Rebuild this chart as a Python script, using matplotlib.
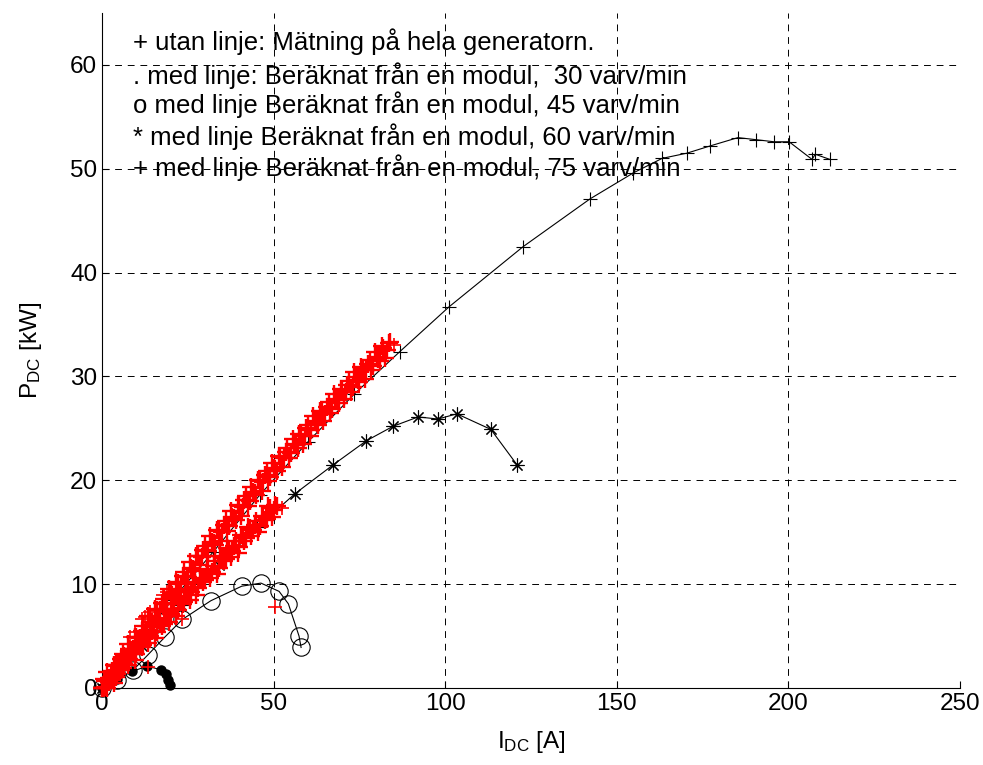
"""
P_DC mot I_DC for generatorn
"""
import matplotlib
matplotlib.use('Agg')
from matplotlib import pyplot as plt

plt.rcParams['font.family'] = ['Liberation Sans', 'DejaVu Sans']
plt.rcParams['mathtext.fontset'] = 'custom'
plt.rcParams['mathtext.rm'] = 'Liberation Sans'
plt.rcParams['mathtext.default'] = 'regular'

# 30 varv/min (. med linje)
I_30 = [0, 4.4, 8.8, 13.2, 17.2, 18.5, 19.3, 19.7]
P_30 = [0, 0.9, 1.6, 2.1, 1.75, 1.3, 0.8, 0.3]

# 45 varv/min (o med linje)
I_45 = [0, 4.5, 9.0, 13.4, 18.3, 23.4, 31.7, 40.7, 46.3, 51.6, 54.3, 57.4, 58.0]
P_45 = [0, 0.8, 1.7, 3.2, 4.9, 6.6, 8.4, 9.8, 10.1, 9.3, 8.1, 5.0, 3.9]

# 60 varv/min (* med linje)
I_60 = [0, 11.5, 23.0, 34.0, 45.3, 56.2, 67.4, 77.0, 84.8, 92.1, 97.9, 103.4, 113.3, 120.9]
P_60 = [0, 4.0, 8.0, 11.8, 15.5, 18.7, 21.5, 23.8, 25.2, 26.1, 25.9, 26.4, 24.9, 21.5]

# 75 varv/min (+ med linje)
I_75 = [0, 10.5, 20.5, 32.4, 46.0, 60.0, 73.5, 86.8, 101.1, 122.7, 142.2, 154.8,
        163.2, 170.4, 177.2, 185.3, 190.6, 195.8, 200.2, 206.9, 207.8, 212.1]
P_75 = [0, 4.3, 8.5, 13.1, 18.6, 23.7, 28.3, 32.4, 36.7, 42.5, 47.1, 49.6,
        51.0, 51.5, 52.2, 53.0, 52.8, 52.6, 52.6, 50.9, 51.4, 50.9]

# Matning pa hela generatorn (+ utan linje): ovre bandet
I_meas_a = [0, 0.5, 1, 1.5, 2, 2.5, 3, 3.5, 4, 4.5, 5, 5.5, 6, 6.5, 7, 7.5, 8, 8.5, 9, 9.5,
            10, 10.5, 11, 11.5, 12, 12.5, 13, 13.5, 14, 14.5, 15, 15.5, 16, 16.5, 17, 17.5,
            18, 18.5, 19, 19.5, 20, 20.5, 21, 21.5, 22, 22.5, 23, 23.5, 24, 24.5, 25, 25.5,
            26, 26.5, 27, 27.5, 28, 28.5, 29, 29.5, 30, 30.5, 31, 31.5, 32, 32.5, 33, 33.5,
            34, 34.5, 35, 35.5, 36, 36.5, 37, 37.5, 38, 38.5, 39, 39.5, 40, 40.5, 41, 41.5,
            42, 42.5, 43, 43.5, 44, 44.5, 45, 45.5, 46, 46.5, 47, 47.5, 48, 48.5, 49, 49.5,
            50, 50.5, 51, 51.5, 52, 52.5, 53, 53.5, 54, 54.5, 55, 55.5, 56, 56.5, 57, 57.5,
            58, 58.5, 59, 59.5, 60, 60.5, 61, 61.5, 62, 62.5, 63, 63.5, 64, 64.5, 65, 65.5,
            66, 66.5, 67, 67.5, 68, 68.5, 69, 69.5, 70, 70.5, 71, 71.5, 72, 72.5, 73, 73.5,
            74, 74.5, 75, 75.5, 76, 76.5, 77, 77.5, 78, 78.5, 79, 79.5, 80, 80.5, 81, 81.5,
            82, 82.5, 83, 83.5, 84]
P_meas_a = [0.0, 0.0, 0.1, 1.5, 1.0, 1.0, 0.8, 2.2, 2.1, 1.3, 2.1, 2.8, 3.3, 2.3, 2.8, 4.2,
            3.8, 3.7, 3.5, 4.9, 4.9, 4.0, 4.8, 5.5, 6.0, 5.0, 5.5, 6.9, 6.4, 6.4, 6.2, 7.6,
            7.5, 6.6, 7.5, 8.2, 8.6, 7.6, 8.1, 9.5, 9.1, 9.0, 8.8, 10.2, 10.1, 9.2, 10.0, 10.8,
            11.2, 10.2, 10.7, 12.1, 11.6, 11.5, 11.3, 12.7, 12.7, 11.8, 12.6, 13.3, 13.7, 12.7,
            13.2, 14.6, 14.1, 14.0, 13.8, 15.2, 15.1, 14.2, 15.0, 15.7, 16.1, 15.1, 15.6, 17.0,
            16.5, 16.4, 16.2, 17.6, 17.5, 16.6, 17.4, 18.1, 18.5, 17.5, 18.0, 19.4, 18.9, 18.8,
            18.6, 20.0, 19.9, 19.0, 19.8, 20.5, 20.9, 19.9, 20.3, 21.7, 21.2, 21.1, 20.9, 22.3,
            22.2, 21.3, 22.1, 22.7, 23.1, 22.1, 22.6, 24.0, 23.5, 23.4, 23.1, 24.5, 24.4, 23.5,
            24.3, 25.0, 25.3, 24.3, 24.8, 26.2, 25.7, 25.5, 25.3, 26.7, 26.6, 25.7, 26.4, 27.1,
            27.5, 26.5, 26.9, 28.3, 27.8, 27.7, 27.4, 28.8, 28.7, 27.8, 28.5, 29.2, 29.6, 28.5,
            29.0, 30.4, 29.9, 29.7, 29.5, 30.9, 30.7, 29.8, 30.6, 31.2, 31.6, 30.6, 31.0, 32.4,
            31.9, 31.7, 31.5, 32.9, 32.7, 31.8, 32.5, 33.2, 33.3]

# Matning pa hela generatorn (+ utan linje): nedre bandet
I_meas_b = [0, 0.5, 1, 1.5, 2, 2.5, 3, 3.5, 4, 4.5, 5, 5.5, 6, 6.5, 7, 7.5, 8, 8.5, 9, 9.5,
            10, 10.5, 11, 11.5, 12, 12.5, 13, 13.5, 14, 14.5, 15, 15.5, 16, 16.5, 17, 17.5,
            18, 18.5, 19, 19.5, 20, 20.5, 21, 21.5, 22, 22.5, 23, 23.5, 24, 24.5, 25, 25.5,
            26, 26.5, 27, 27.5, 28, 28.5, 29, 29.5, 30, 30.5, 31, 31.5, 32, 32.5, 33, 33.5,
            34, 34.5, 35, 35.5, 36, 36.5, 37, 37.5, 38, 38.5, 39, 39.5, 40, 40.5, 41, 41.5,
            42, 42.5, 43, 43.5, 44, 44.5, 45, 45.5, 46, 46.5, 47, 47.5, 48, 48.5, 49, 49.5,
            50, 50.5, 51]
P_meas_b = [0.0, 0.9, 0.7, 0.0, 0.6, 1.1, 1.6, 0.5, 1.1, 2.2, 2.0, 1.7, 1.9, 3.1, 3.0, 2.2,
            2.8, 3.3, 3.8, 2.7, 3.3, 4.3, 4.2, 3.9, 4.1, 5.3, 5.1, 4.3, 5.0, 5.5, 5.9, 4.8,
            5.4, 6.5, 6.3, 6.0, 6.2, 7.4, 7.3, 6.4, 7.1, 7.6, 8.1, 6.9, 7.5, 8.6, 8.4, 8.1,
            8.3, 9.5, 9.3, 8.5, 9.2, 9.7, 10.1, 9.0, 9.6, 10.6, 10.5, 10.2, 10.4, 11.5, 11.4,
            10.6, 11.2, 11.7, 12.2, 11.0, 11.6, 12.7, 12.5, 12.2, 12.4, 13.5, 13.4, 12.6, 13.2,
            13.7, 14.2, 13.0, 13.6, 14.7, 14.5, 14.2, 14.4, 15.5, 15.4, 14.6, 15.2, 15.7, 16.1,
            15.0, 15.6, 16.6, 16.5, 16.2, 16.3, 17.5, 17.3, 16.5, 17.1, 17.6, 17.5]

# avvikande matpunkter
I_meas_c = [8.2, 9.6, 11.7, 12.5, 14.0, 17.8, 18.9, 13.4, 23.3, 50.4, 52.4, 85.0]
P_meas_c = [4.9, 5.4, 6.6, 6.8, 7.3, 9.0, 9.2, 2.0, 6.6, 7.8, 17.3, 33.0]

legend_lines = [
    '+ utan linje: Mätning på hela generatorn.',
    '. med linje: Beräknat från en modul,  30 varv/min',
    'o med linje Beräknat från en modul, 45 varv/min',
    '* med linje Beräknat från en modul, 60 varv/min',
    '+ med linje Beräknat från en modul, 75 varv/min',
]
legend_y = [62.2, 59.0, 56.2, 53.1, 50.1]

fig = plt.figure(figsize=(9.83, 7.65), dpi=100)
ax = fig.add_axes([0.1038, 0.1007, 0.8728, 0.8823])

lw = 0.8
ax.plot(I_30, P_30, color='k', linestyle='-', linewidth=lw, marker='o',
        markersize=6.5, markerfacecolor='k', markeredgecolor='k', clip_on=False, zorder=3)
ax.plot(I_45, P_45, color='k', linestyle='-', linewidth=lw, marker='o',
        markersize=12.5, markerfacecolor='none', markeredgecolor='k',
        markeredgewidth=0.8, clip_on=False, zorder=3)
ax.plot(I_60, P_60, color='k', linestyle='-', linewidth=lw, marker=(8, 2, 0),
        markersize=10, markeredgecolor='k', markeredgewidth=0.8, clip_on=False, zorder=3)
ax.plot(I_75, P_75, color='k', linestyle='-', linewidth=lw, marker='+',
        markersize=10, markeredgecolor='k', markeredgewidth=0.8, clip_on=False, zorder=3)

# tata band av matpunkter
for xs, ys in [(I_meas_a, P_meas_a), (I_meas_b, P_meas_b)]:
    ax.plot(xs, ys, linestyle='none', marker='+', markersize=13,
            markeredgecolor='red', markeredgewidth=1.7, clip_on=False, zorder=4)
ax.plot(I_meas_c, P_meas_c, linestyle='none', marker='+', markersize=10,
        markeredgecolor='red', markeredgewidth=1.2, clip_on=False, zorder=4)

for txt, yy in zip(legend_lines, legend_y):
    ax.text(9.0, yy, txt, fontsize=18.5, va='center', ha='left', zorder=5)

ax.set_xlim(0, 250)
ax.set_ylim(0, 65)
ax.set_xticks([0, 50, 100, 150, 200, 250])
ax.set_yticks([0, 10, 20, 30, 40, 50, 60])
ax.tick_params(direction='in', length=5, width=0.8, labelsize=17.5, top=False, right=False)
ax.spines['top'].set_visible(False)
ax.spines['right'].set_visible(False)
ax.grid(True, color='k', linestyle=(0, (7, 6)), linewidth=0.7)
ax.set_axisbelow(True)

ax.set_xlabel(r'I$_{DC}$ [A]', fontsize=17.5, labelpad=10)
ax.set_ylabel(r'P$_{DC}$ [kW]', fontsize=17.5)
ax.yaxis.set_label_coords(-0.068, 0.5)

plt.savefig('out.png', dpi=100)
